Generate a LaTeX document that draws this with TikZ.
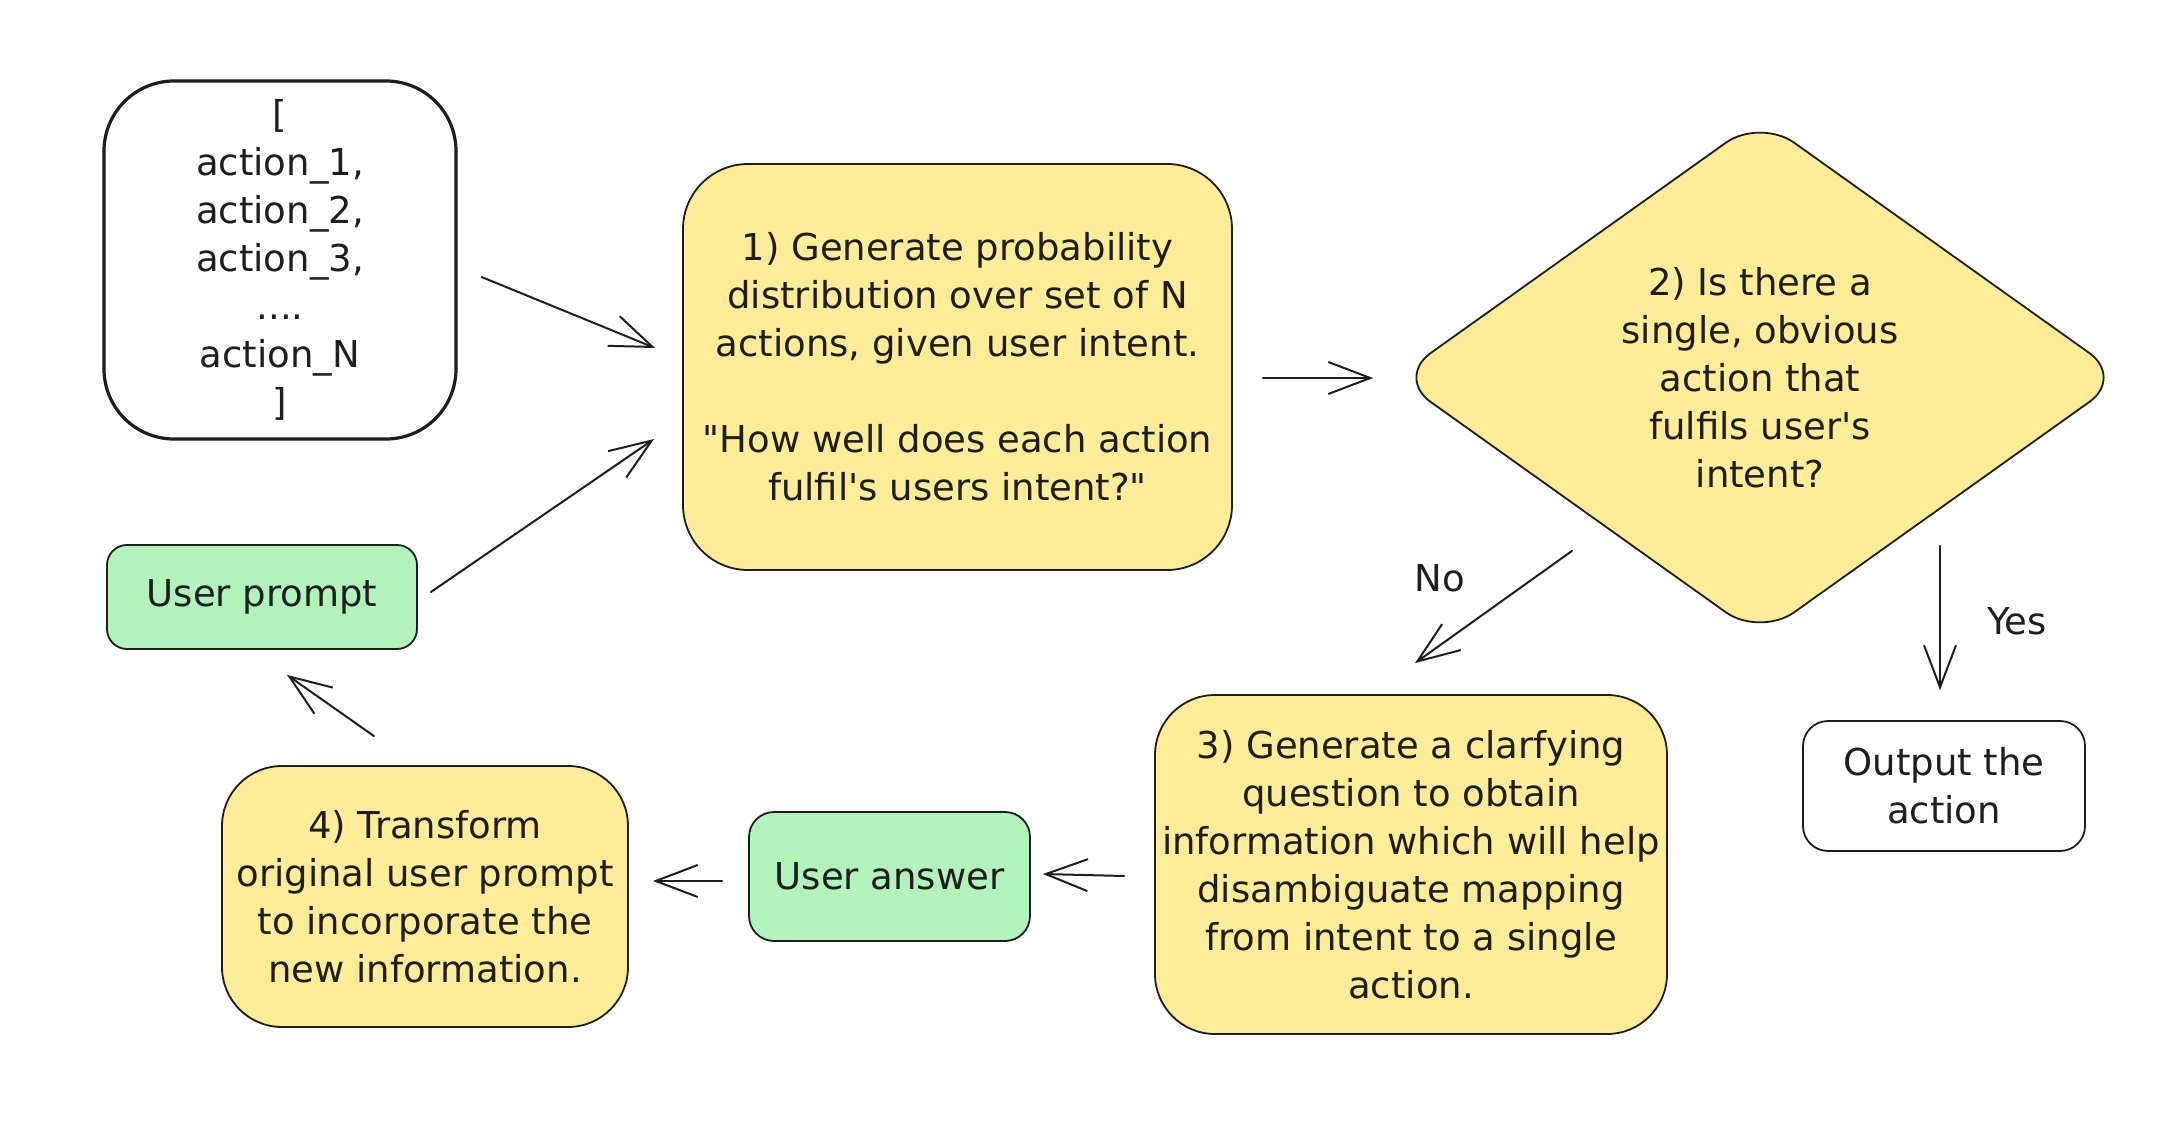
\documentclass[tikz,border=0pt]{standalone}
\usepackage{fontspec}
\setmainfont{DejaVu Sans}[Ligatures=TeXOff]
\usetikzlibrary{arrows.meta,shapes.geometric,calc}
\definecolor{ink}{HTML}{1E1E1E}
\definecolor{yel}{HTML}{FFEC99}
\definecolor{grn}{HTML}{B2F2BB}
\begin{document}
\begin{tikzpicture}[x=1pt,y=-1pt,
  every node/.style={font=\fontsize{37}{48}\selectfont, text=ink},
  box/.style={draw=ink, line width=1.8pt, align=center, inner sep=0pt},
  ybox/.style={box, fill=yel},
  gbox/.style={box, fill=grn},
  wbox/.style={box, fill=white},
  conn/.style={draw=ink, line width=2pt, line cap=round, -{Straight Barb[length=42pt,width=32pt]}},
  lbl/.style={inner sep=0pt}
]
\useasboundingbox[fill=white] (0,0) rectangle (2180,1142);

% nodes
\node[wbox, line width=3.2pt, minimum width=352pt, minimum height=358pt, rounded corners=70pt] (list) at (280,260)
  {[\\action\_1,\\action\_2,\\action\_3,\\....\\action\_N\\]};
\node[ybox, minimum width=549pt, minimum height=406pt, rounded corners=65pt] (gen) at (957.5,367)
  {1) Generate probability\\distribution over set of N\\actions, given user intent.\\[48pt]"How well does each action\\fulfil's users intent?"};
\node[diamond, draw=ink, fill=yel, line width=1.8pt, minimum width=728pt, minimum height=519pt, inner sep=0pt, rounded corners=42pt] (dia) at (1760,377.5) {};
\node[align=center, inner sep=0pt] (qtext) at (dia.center)
  {2) Is there a\\single, obvious\\action that\\fulfils user's\\intent?};
\node[gbox, minimum width=310pt, minimum height=104pt, rounded corners=20pt] (uprompt) at (262,597) {User prompt};
\node[ybox, minimum width=406pt, minimum height=261pt, rounded corners=60pt] (transf) at (425,896.5)
  {4) Transform\\original user prompt\\to incorporate the\\new information.};
\node[gbox, minimum width=281pt, minimum height=129pt, rounded corners=25pt] (uans) at (889.5,876.5) {User answer};
\node[ybox, minimum width=512pt, minimum height=339pt, rounded corners=60pt] (clar) at (1411,864.5)
  {3) Generate a clarfying\\question to obtain\\information which will help\\disambiguate mapping\\from intent to a single\\action.};
\node[wbox, minimum width=282pt, minimum height=130pt, rounded corners=25pt] (out) at (1944,786)
  {Output the\\action};

% labels
\node[lbl] (nolbl) at (1440,578) {No};
\node[lbl] (yeslbl) at (2017,621) {Yes};

% connectors
\draw[conn] ([shift={(24,17)}]list.east) -- ([shift={(-27,-19)}]gen.west);
\draw[conn] ([shift={(13,-5)}]uprompt.east) -- ([shift={(-28,72)}]gen.west);
\draw[conn] ([shift={(30,11)}]gen.east) -- ([shift={(-22,0.5)}]dia.west);
\draw[conn] ([shift={(-188,-87)}]dia.south) -- ([shift={(4,-31)}]clar.north);
\draw[conn] ([shift={(180,-92)}]dia.south) -- ([shift={(-4,-30)}]out.north);
\draw[conn] ([shift={(-30,11.5)}]clar.west) -- ([shift={(12,-2.5)}]uans.east);
\draw[conn] ([shift={(-26,4.5)}]uans.west) -- ([shift={(24,-15.5)}]transf.east);
\draw[conn] ([shift={(-51,-29)}]transf.north) -- ([shift={(25,25)}]uprompt.south);
\end{tikzpicture}
\end{document}
